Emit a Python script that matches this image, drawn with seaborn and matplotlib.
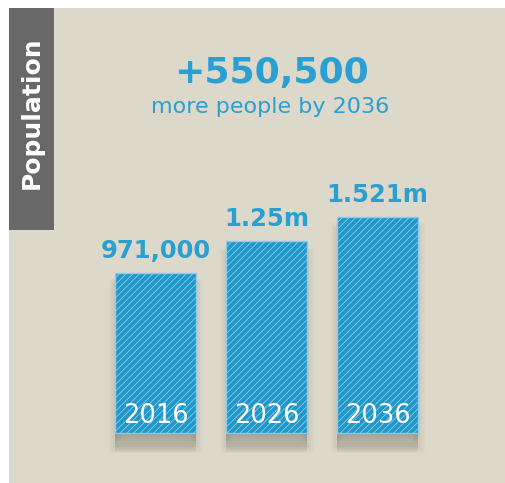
import matplotlib
matplotlib.use("Agg")
import matplotlib.pyplot as plt
import matplotlib.patheffects as pe
from matplotlib.patches import Rectangle
import seaborn as sns
import pandas as pd

# ---- data ----
years = ["2016", "2026", "2036"]
population = [971000, 1250000, 1521000]
value_labels = ["971,000", "1.25m", "1.521m"]
headline = "+550,500"
subline = "more people by 2036"
tab_label = "Population"

# ---- style ----
BG = "#dcd8ca"
BAR = "#2097c9"
TXT = "#2a9fd1"
TAB = "#686868"
HATCH = "#8ccbe8"

sns.set_theme(style="white")
plt.rcParams["font.family"] = ["DejaVu Sans"]
plt.rcParams["hatch.linewidth"] = 0.6
plt.rcParams["hatch.color"] = HATCH

W, H = 506, 483
fig = plt.figure(figsize=(W / 100, H / 100), dpi=100)
fig.patch.set_facecolor("white")

# background panel and side tab
fig.patches.append(Rectangle((9 / W, 0), 1, (H - 8) / H, transform=fig.transFigure,
                             facecolor=BG, edgecolor="none", zorder=-10))
fig.patches.append(Rectangle((9 / W, (H - 230) / H), 45 / W, 222 / H,
                             transform=fig.transFigure, facecolor=TAB,
                             edgecolor="none", zorder=-5))
fig.text(32 / W, (H - 113) / H, tab_label, rotation=90, color="white",
         fontsize=18, fontweight="bold", ha="center", va="center")

fig.text(271 / W, (H - 83) / H, headline, color=TXT, fontsize=26,
         fontweight="bold", ha="center", va="baseline")
fig.text(270 / W, (H - 113) / H, subline, color=TXT, fontsize=16,
         ha="center", va="baseline")

# axes layout (pixels)
ax_left, ax_right, ax_bot, ax_top = 100, 433, 475, 120
ax = fig.add_axes([ax_left / W, (H - ax_bot) / H, (ax_right - ax_left) / W,
                   (ax_bot - ax_top) / H])
ax.set_facecolor("none")
ax.set_yscale("log")

PX_PER_DECADE = 287.3
BASE = 269300  # value axis baseline where bars start
df = pd.DataFrame({"year": years, "pop": population})
df["height"] = df["pop"] - BASE

SH = "#3b3525"
shadow = [pe.SimpleLineShadow(offset=(0, -9), shadow_color=SH, alpha=0.03,
                              linewidth=lw, hatch=None)
          for lw in (9, 6, 3)]
shadow += [pe.SimplePatchShadow(offset=(0, -k), shadow_rgbFace=SH,
                                alpha=0.05, rho=1, hatch=None)
           for k in (2, 4, 6, 8, 10, 12, 14)]
sns.barplot(data=df, x="year", y="height", order=years, ax=ax, color=BAR,
            width=0.73, bottom=BASE, edgecolor=HATCH, linewidth=1.0,
            hatch="/////", saturation=1, errorbar=None)
for bar in ax.patches:
    bar.set_path_effects(shadow + [pe.Normal()])

ax.set_ylim(BASE / 10 ** ((ax_bot - 433) / PX_PER_DECADE),
            BASE * 10 ** ((433 - ax_top) / PX_PER_DECADE))
ax.set_xlim(-0.5, 2.5)
ax.axis("off")

ax.bar_label(ax.containers[0], labels=value_labels, padding=7.5, color=TXT,
             fontsize=17.5, fontweight="bold")
for i, y in enumerate(years):
    ax.annotate(y, xy=(i, BASE), xytext=(0, 7.5), textcoords="offset points",
                ha="center", va="baseline", color="white", fontsize=18.5)

fig.savefig("out.png", dpi=100, facecolor=fig.get_facecolor())
